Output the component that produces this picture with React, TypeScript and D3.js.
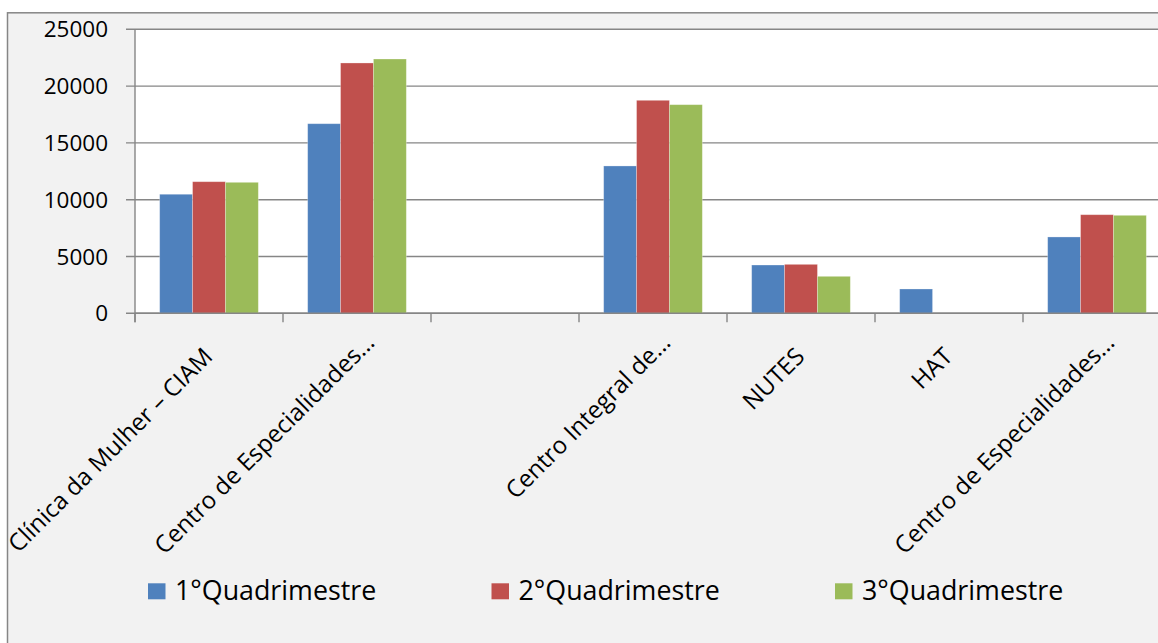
import React from "react";
import * as d3 from "d3";

const categories = [
  "Clínica da Mulher – CIAM",
  "Centro de Especialidades…",
  "",
  "Centro Integral de…",
  "NUTES",
  "HAT",
  "Centro de Especialidades…",
];
const seriesNames = ["1°Quadrimestre", "2°Quadrimestre", "3°Quadrimestre"];
const q1 = [10480, 16690, null, 12970, 4250, 2140, 6720];
const q2 = [11585, 22035, null, 18750, 4310, null, 8680];
const q3 = [11530, 22385, null, 18365, 3255, null, 8625];
const yTicks = [0, 5000, 10000, 15000, 20000, 25000];
const colors = ["#4f81bd", "#c0504d", "#9bbb59"];

const W = 1158;
const H = 643;
const plotLeft = 135;
const plotRight = 1171;
const plotTop = 29.3;
const plotBottom = 313.3;
const FONT = "'Open Sans', 'Noto Sans', sans-serif";

export default function App() {
  const series = [q1, q2, q3];
  const idx = categories.map((_, i) => String(i));
  const x0 = d3
    .scaleBand<string>()
    .domain(idx)
    .range([plotLeft, plotRight])
    .paddingInner(1 / 3)
    .paddingOuter(1 / 6);
  const x1 = d3
    .scaleBand<string>()
    .domain(seriesNames)
    .range([0, x0.bandwidth()]);
  const y = d3.scaleLinear().domain([0, 25000]).range([plotBottom, plotTop]);
  const step = x0.step();
  const boundaries = d3.range(categories.length + 1).map((i) => plotLeft + i * step);

  return (
    <svg
      width={W}
      height={H}
      style={{ position: "absolute", left: 0, top: 0, display: "block" }}
      xmlns="http://www.w3.org/2000/svg"
    >
      <rect x={0} y={0} width={W} height={H} fill="#ffffff" />
      <rect
        x={7.5}
        y={12.8}
        width={W + 20}
        height={H + 20}
        fill="#f2f2f2"
        stroke="#868686"
        strokeWidth={1.5}
      />
      <rect
        x={plotLeft}
        y={plotTop}
        width={plotRight - plotLeft}
        height={plotBottom - plotTop}
        fill="#ffffff"
      />
      {/* gridlines */}
      {yTicks.map((t) => (
        <line
          key={"g" + t}
          x1={plotLeft - 9}
          x2={plotRight}
          y1={y(t)}
          y2={y(t)}
          stroke="#868686"
          strokeWidth={1.4}
        />
      ))}
      {/* bars */}
      {categories.map((c, i) => (
        <g key={"c" + i} transform={`translate(${x0(String(i))},0)`}>
          {series.map((s, k) => {
            const v = s[i];
            if (v == null || v === 0) return null;
            return (
              <rect
                key={k}
                x={x1(seriesNames[k])}
                y={y(v)}
                width={x1.bandwidth()}
                height={y(0) - y(v)}
                fill={colors[k]}
                stroke="rgba(255,255,255,0.35)"
                strokeWidth={0.8}
              />
            );
          })}
        </g>
      ))}
      {/* y axis */}
      <line x1={plotLeft} x2={plotLeft} y1={plotTop} y2={plotBottom + 9} stroke="#868686" strokeWidth={1.4} />
      {yTicks.map((t) => (
        <text
          key={"yl" + t}
          x={108}
          y={y(t)}
          dy="0.36em"
          textAnchor="end"
          fontFamily={FONT}
          fontSize={22.5}
          fill="#000"
        >
          {t}
        </text>
      ))}
      {/* x axis */}
      <line x1={plotLeft} x2={plotRight} y1={plotBottom} y2={plotBottom} stroke="#868686" strokeWidth={1.4} />
      {boundaries.map((b, i) => (
        <line key={"xt" + i} x1={b} x2={b} y1={plotBottom} y2={plotBottom + 9} stroke="#868686" strokeWidth={1.4} />
      ))}
      {categories.map((c, i) => {
        if (!c) return null;
        const cx = (x0(String(i)) as number) + x0.bandwidth() / 2;
        const shift = c.endsWith("…") ? 14 : 0;
        return (
          <text
            key={"xl" + i}
            transform={`translate(${cx + 5 + shift},${358 - shift}) rotate(-45)`}
            textAnchor="end"
            fontFamily={FONT}
            fontSize={24}
            fill="#000"
          >
            {c}
          </text>
        );
      })}
      {/* legend */}
      {seriesNames.map((n, k) => {
        const lx = 148 + k * 343.5;
        return (
          <g key={"lg" + k}>
            <rect x={lx} y={583.3} width={17.5} height={16} fill={colors[k]} />
            <text x={lx + 27} y={600} fontFamily={FONT} fontSize={26.8} fill="#000">
              {n}
            </text>
          </g>
        );
      })}
    </svg>
  );
}
